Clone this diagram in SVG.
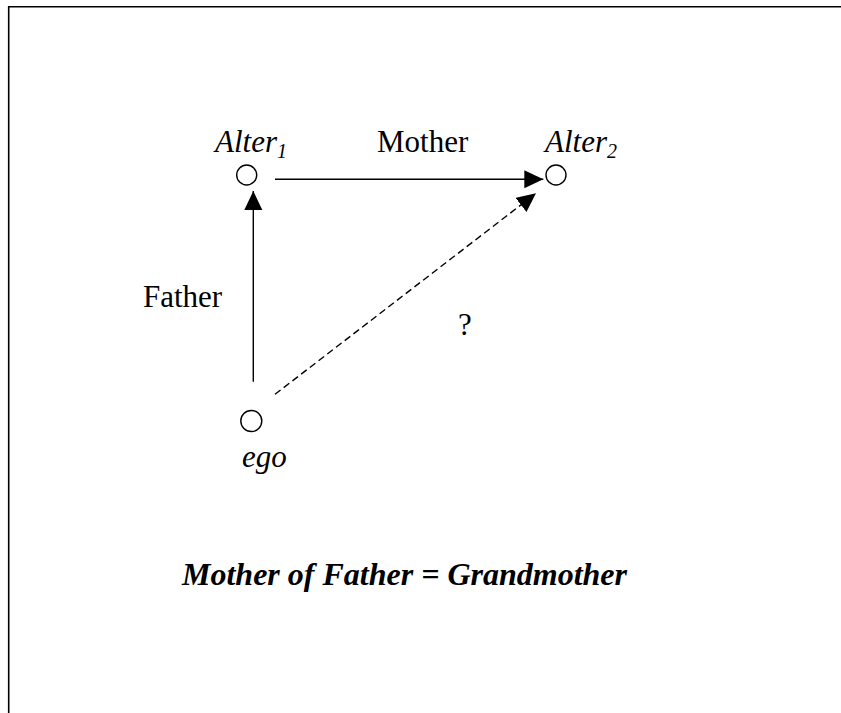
<svg xmlns="http://www.w3.org/2000/svg" width="841" height="713" viewBox="0 0 841 713">
<style>
text{font-family:"Liberation Serif","Times New Roman",serif;fill:#000}
.lbl{font-size:31px}
.it{font-style:italic}
.sub{font-size:20px}
.node{fill:none;stroke:#000;stroke-width:1.4}
.edge{stroke:#000;stroke-width:1.4;fill:none}
.dash{stroke-dasharray:7,4}
.frame{stroke:#000;stroke-width:1.6;fill:none}
.title{font-size:32px;font-weight:bold;font-style:italic}
</style>
<defs>
<marker id="ah" markerUnits="userSpaceOnUse" markerWidth="20" markerHeight="20" refX="19" refY="9" orient="auto">
<path d="M0,0 L19,9 L0,18 z" fill="#000"/>
</marker>
</defs>
<path class="frame" d="M8.7,713 L8.7,6.8 L841,6.8"/>
<g id="alter1">
<circle class="node" cx="246.7" cy="175" r="10"/>
<text class="lbl it" x="215" y="152">Alter<tspan class="sub" dy="6">1</tspan></text>
</g>
<g id="alter2">
<circle class="node" cx="556" cy="175" r="10"/>
<text class="lbl it" x="545" y="152">Alter<tspan class="sub" dy="6">2</tspan></text>
</g>
<g id="ego">
<circle class="node" cx="251.3" cy="421" r="10.5"/>
<text class="lbl it" x="242" y="467">ego</text>
</g>
<g id="connectors">
<line class="edge" x1="275" y1="179.3" x2="543.3" y2="179.3" marker-end="url(#ah)"/>
<line class="edge" x1="253.3" y1="381.7" x2="253.3" y2="191" marker-end="url(#ah)"/>
<line class="edge dash" x1="275" y1="394.3" x2="536" y2="193.3" marker-end="url(#ah)"/>
<text class="lbl" x="377" y="152">Mother</text>
<text class="lbl" x="143" y="306.7">Father</text>
<text class="lbl" x="458" y="335">?</text>
</g>
<text class="title" x="182" y="585">Mother of Father = Grandmother</text>
</svg>
